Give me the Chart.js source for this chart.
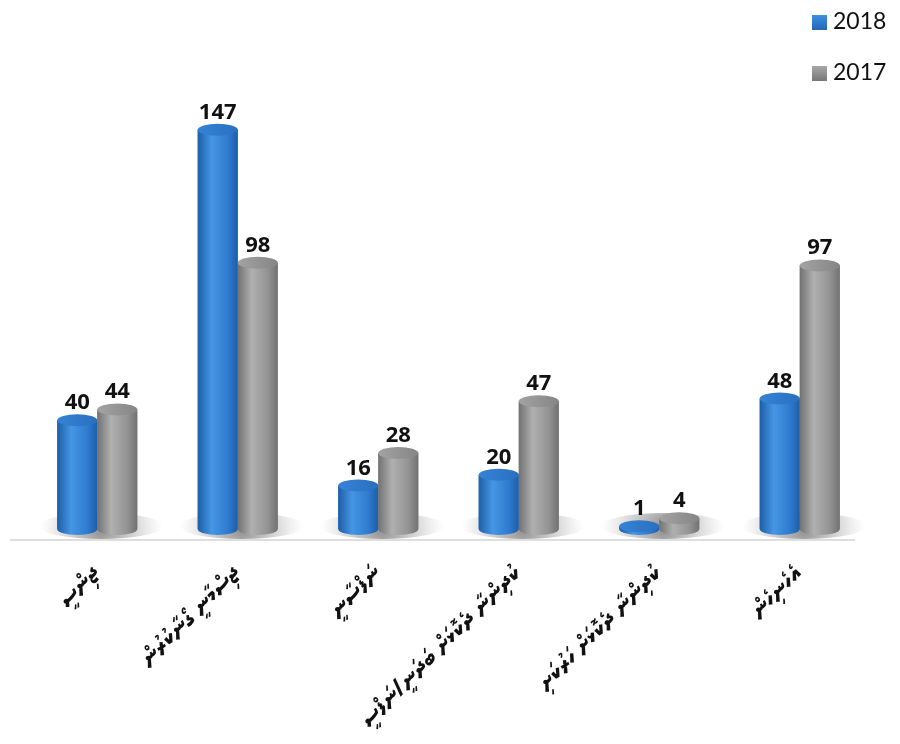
<!DOCTYPE html>
<html>
<head>
<meta charset="utf-8">
<script src="https://cdn.jsdelivr.net/npm/chart.js@4"></script>
<style>
  html, body { margin: 0; padding: 0; background: #fff; }
  #wrap { position: relative; width: 900px; height: 744px; }
  .leg { position: absolute; left: 812px; font-family: Lato, "Liberation Sans", sans-serif; font-size: 23px; color: #111; line-height: 26px; }
  .leg span { display: inline-block; width: 15px; height: 15px; margin-right: 6px; vertical-align: -1px; }
</style>
</head>
<body>
<div id="wrap">
  <canvas id="chart" width="900" height="744"></canvas>
  <div class="leg" style="top:7px"><span style="background:linear-gradient(#3d8fe0,#2366b8)"></span>2018</div>
  <div class="leg" style="top:58px"><span style="background:linear-gradient(#a8a8a8,#767676)"></span>2017</div>
</div>
<script>
// categories (Dhivehi)
const categories = [
  "ޖިންސީ",
  "ޖިސްމާނީ ގޯނާކުރުން",
  "ނަފްސާނީ",
  "ކުދިންނާ ދެކޮޅަށް ބަދަނީ/ނަފްސީ",
  "ކުދިންނާ ދެކޮޅަށް ހަރުކަށި",
  "އެހެނިހެން"
];
const values2018 = [40, 147, 16, 20, 1, 48];
const values2017 = [44, 98, 28, 47, 4, 97];

const RY = 6;

function bodyGrad(ctx, x, w, dark, light, edge) {
  const g = ctx.createLinearGradient(x - w / 2, 0, x + w / 2, 0);
  g.addColorStop(0, dark);
  g.addColorStop(0.35, light);
  g.addColorStop(0.75, edge);
  g.addColorStop(1, dark);
  return g;
}

// floor, shadows and the cylinder look drawn over the bars
const cylinders = {
  id: "cylinders",
  beforeDatasetsDraw(chart) {
    const ctx = chart.ctx;
    const area = chart.chartArea;
    ctx.save();
    ctx.strokeStyle = "#dedede";
    ctx.lineWidth = 2;
    ctx.beginPath();
    ctx.moveTo(10, area.bottom + 11);
    ctx.lineTo(855, area.bottom + 11);
    ctx.stroke();
    const xs = chart.scales.x;
    categories.forEach((c, i) => {
      const cx = xs.getPixelForValue(i);
      const g = ctx.createRadialGradient(cx + 4, area.bottom, 5, cx + 4, area.bottom, 62);
      g.addColorStop(0, "rgba(70,70,70,0.55)");
      g.addColorStop(0.6, "rgba(110,110,110,0.22)");
      g.addColorStop(1, "rgba(160,160,160,0)");
      ctx.fillStyle = g;
      ctx.beginPath();
      ctx.ellipse(cx + 4, area.bottom - 3, 62, 13, 0, 0, Math.PI * 2);
      ctx.fill();
    });
    ctx.restore();
  },
  afterDatasetsDraw(chart) {
    const ctx = chart.ctx;
    ctx.save();
    chart.data.datasets.forEach((ds, di) => {
      const meta = chart.getDatasetMeta(di);
      const c = ds.cyl;
      meta.data.forEach((bar, i) => {
        const w = bar.width, x = bar.x, top = bar.y, base = bar.base;
        ctx.fillStyle = bodyGrad(ctx, x, w, c.dark, c.light, c.mid);
        ctx.fillRect(x - w / 2, top, w, base - top);
        ctx.beginPath();
        ctx.ellipse(x, base, w / 2, RY, 0, 0, Math.PI);
        ctx.fill();
        const tg = ctx.createLinearGradient(x - w / 2, top, x + w / 2, top);
        tg.addColorStop(0, c.topA);
        tg.addColorStop(1, c.topB);
        ctx.fillStyle = tg;
        ctx.beginPath();
        ctx.ellipse(x, top, w / 2, RY, 0, 0, Math.PI * 2);
        ctx.fill();
        // value label
        ctx.fillStyle = "#111";
        ctx.font = "bold 22px 'Open Sans', 'Liberation Sans', sans-serif";
        ctx.textAlign = "center";
        ctx.textBaseline = "alphabetic";
        ctx.fillText(String(ds.data[i]), x, top - 11);
      });
    });
    ctx.restore();
  }
};

new Chart(document.getElementById("chart"), {
  type: "bar",
  data: {
    labels: categories,
    datasets: [
      {
        label: "2018",
        data: values2018,
        backgroundColor: "#2f7bd0",
        cyl: { dark: "#1d5ea8", light: "#4596e4", mid: "#2f7bd0", topA: "#3583d6", topB: "#2a6fbf" }
      },
      {
        label: "2017",
        data: values2017,
        backgroundColor: "#979797",
        cyl: { dark: "#727272", light: "#b0b0b0", mid: "#939393", topA: "#a3a3a3", topB: "#858585" }
      }
    ]
  },
  options: {
    responsive: false,
    animation: false,
    layout: { padding: { left: 27, right: 30, top: 40, bottom: 0 } },
    datasets: { bar: { barPercentage: 1, categoryPercentage: 0.57 } },
    plugins: { legend: { display: false }, tooltip: { enabled: false } },
    scales: {
      y: { display: false, min: 0, max: 180 },
      x: {
        grid: { display: false },
        border: { display: false },
        afterFit(scale) { scale.height = 215; },
        ticks: {
          minRotation: 45,
          maxRotation: 45,
          padding: 24,
          color: "#111",
          font: { size: 24, weight: "bold", family: "'Noto Sans Thaana', 'MV Boli', 'DejaVu Sans', sans-serif" }
        }
      }
    }
  },
  plugins: [cylinders]
});
</script>
</body>
</html>
